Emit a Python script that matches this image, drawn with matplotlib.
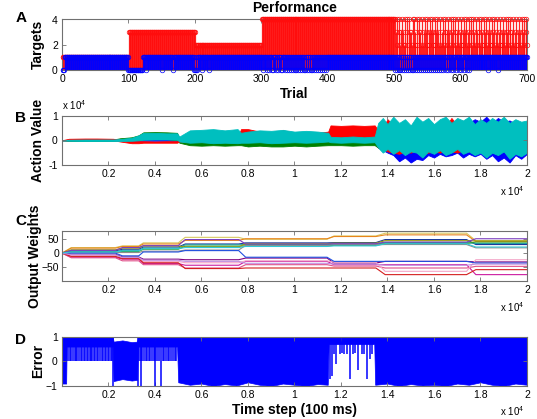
import numpy as np
import matplotlib
matplotlib.use("Agg")
import matplotlib.pyplot as plt

plt.rcParams['font.family'] = ['Liberation Sans', 'DejaVu Sans']
plt.rcParams['mathtext.fontset'] = 'custom'
plt.rcParams['mathtext.rm'] = 'Liberation Sans'
plt.rcParams['mathtext.it'] = 'Liberation Sans'

# ---------------- Panel A data ----------------
A_n_trials = 700
A_target_blocks = [(1, 100, 1), (101, 200, 3), (201, 300, 2), (301, 500, 4)]
A_target_late = ("4132413423" "1413242134" "1423132414" "2314213432" "1412341324"
                 "1324314231" "4231432142" "1341234123" "4132413421" "3421342134"
                 "2132413421" "3421342143" "2143214321" "4321423142" "3142314231"
                 "4213421342" "1324132413" "4213421342" "1324132413" "2413421342")
A_choice_zero_trials = ([1, 2, 3] + list(range(100, 122)) + [126, 151, 167, 199, 200, 201, 203, 210, 221]
                        + [303, 308, 312, 316, 318, 322, 325, 329, 331, 335, 338, 341, 344, 347, 350,
                           352, 355, 358, 361, 364, 366, 369, 372, 375, 377, 380, 383, 386, 389, 392, 395, 398]
                        + [501, 504, 507, 509, 512, 515, 518, 521, 524, 527, 529, 532, 535, 538, 541, 544,
                           547, 550, 552, 555, 558, 561, 565, 568, 571, 574, 578, 581, 585, 589, 593, 597,
                           601, 605, 609, 612, 641, 656])

# ---------------- Panel B data (x 1e4) ----------------
B_t = [0, 300, 1000, 1500, 2200, 2500, 3000, 3300, 3500, 4000, 4500, 4950, 5050, 5500, 6000, 6500,
       7000, 7550, 7700, 8000, 8500, 9000, 9500, 10000, 10500, 11000, 11450, 11550, 12000, 12500,
       13000, 13450, 13600, 13800, 14000, 14250, 14500, 14750, 15000, 15250, 15500, 15750, 16000,
       16250, 16500, 16750, 17000, 17250, 17500, 17750, 18000, 18250, 18500, 18750, 19000, 19250,
       19500, 19750, 20000]
B_blue_hi = [0, .01, .02, .02, .02, .02, .02, .02, .02, .02, .02, .02, .02, .05, .05, .05,
             .05, .05, .05, .05, .05, .05, .05, .05, .05, .05, .05, .05, .05, .05,
             .05, .05, .3, .5, .6, .5, .55, .6, .5, .65, .55, .6, .5,
             .55, .6, .5, .65, .6, .7, .85, .75, .95, .7, .9, .75, .8,
             .65, .7, .6]
B_blue_lo = [0, -.01, -.02, -.02, -.02, -.02, -.02, -.02, -.02, -.02, -.02, -.02, -.05, -.1, -.1, -.1,
             -.1, -.12, -.15, -.22, -.15, -.12, -.12, -.12, -.12, -.12, -.1, -.1, -.12, -.12,
             -.12, -.12, -.3, -.4, -.5, -.6, -.85, -.7, -.9, -.75, -.8, -.6, -.7,
             -.55, -.65, -.6, -.5, -.7, -.55, -.65, -.55, -.75, -.6, -.85, -.7, -.9,
             -.6, -.75, -.55]
B_green_hi = [0, .01, .01, .01, .03, .08, .12, .2, .32, .33, .32, .3, .05, .05, .05, .05,
              .05, .05, .05, .05, .05, .05, .05, .05, .05, .05, .05, .05, .05, .05,
              .05, .05, .2, .25, .2, .25, .2, .25, .2, .25, .2, .25, .2,
              .25, .2, .25, .2, .25, .2, .25, .2, .25, .2, .25, .2, .25,
              .2, .25, .2]
B_green_lo = [0, -.02, -.03, -.03, -.03, 0, 0, 0, .05, .05, .05, 0, -.1, -.2, -.22, -.2,
              -.22, -.2, -.2, -.25, -.22, -.25, -.25, -.22, -.25, -.22, -.2, -.2, -.2, -.22,
              -.2, -.2, -.3, -.3, -.35, -.3, -.35, -.3, -.35, -.3, -.35, -.3, -.35,
              -.3, -.35, -.3, -.35, -.3, -.35, -.3, -.35, -.3, -.35, -.3, -.35, -.3,
              -.35, -.3, -.35]
B_red_hi = [0, .06, .07, .07, .06, .02, -.04, -.04, -.04, -.05, -.04, -.04, 0, .1, .1, .1,
            .1, .1, .45, .45, .35, .3, .4, .3, .3, .3, .35, .6, .58, .6,
            .58, .6, .4, .5, .85, .6, .5, .55, .6, .5, .55, .7, .5,
            .6, .55, .9, .6, .55, .5, .55, .5, .45, .5, .45, .5, .4,
            .45, .5, .4]
B_red_lo = [0, 0, .01, .01, 0, -.05, -.12, -.12, -.1, -.1, -.1, -.1, -.05, -.05, -.05, -.05,
            -.05, -.05, .1, .15, .1, .1, .1, .1, .1, .1, .1, .05, .08, .05,
            .08, .05, -.3, -.35, -.45, -.5, -.55, -.45, -.5, -.4, -.55, -.5, -.45,
            -.5, -.4, -.45, -.5, -.4, -.45, -.5, -.4, -.45, -.35, -.4, -.45, -.35,
            -.4, -.35, -.4]
B_cyan_hi = [0, .02, .03, .03, .03, .05, .1, .2, .3, .3, .28, .28, .15, .4, .42, .45,
             .4, .45, .3, .35, .4, .38, .42, .35, .38, .35, .3, .14, .12, .15,
             .12, .15, .7, .9, .65, .95, .7, .85, .6, .95, .75, .9, .65,
             .85, .95, .7, .9, .8, .95, .65, .85, .7, .9, .75, .95, .7,
             .85, .75, .8]
B_cyan_lo = [0, -.02, -.03, -.03, -.03, -.03, -.02, 0, .02, .03, .03, .02, -.05, -.1, -.08, -.12,
             -.1, -.12, -.1, -.1, -.08, -.12, -.1, -.08, -.1, -.08, -.05, -.08, -.1, -.08,
             -.1, -.08, -.3, -.5, -.35, -.55, -.4, -.6, -.45, -.5, -.7, -.45, -.55,
             -.4, -.6, -.5, -.35, -.55, -.45, -.6, -.5, -.7, -.5, -.6, -.45, -.75,
             -.55, -.65, -.5]

# ---------------- Panel C data ----------------
C_t = [0, 400, 2300, 2600, 3300, 3500, 5000, 5300, 7600, 7900, 11400, 11700, 13500, 13900, 17400, 17800, 20000]
C_plateaus = {
    '#d8c860': [20, 26, 37, 57, 50, 62, 72, 45],
    '#e8851c': [18, 24, 33, 46, 52, 60, 66, 42],
    '#1a3a9a': [8, 14, 22, 33, 37, 38, 49, 31],
    '#1f9e9e': [5, 10, 18, 30, 31, 32, 38, 35],
    '#2e9e2e': [3, 6, 14, 25, 26, 28, 35, 40],
    '#9a9a10': [12, 18, 26, 22, 34, 36, 45, 44],
    '#8c8c8c': [2, 2, 7, 11, 28, 30, 31, 19],
    '#7b3fbf': [10, 20, 27, 49, 33, 34, 40, 52],
    '#800080': [-4, -14, -22, -24, -18, -36, -30, -32],
    '#cc1aa0': [-15, -22, -38, -44, -30, -42, -42, -78],
    '#e0508a': [-17, -28, -42, -54, -42, -47, -54, -48],
    '#f4a6c8': [-8, -18, -30, -35, -28, -33, -66, -24],
    '#d42020': [-12, -20, -35, -56, -54, -54, -78, -60],
    '#2050e0': [0, -10, 4, 9, -15, -30, -30, -36],
    '#c090e0': [-6, -16, -26, -30, -37, -40, -44, -40],
    '#30c8d8': [4, 8, 16, 20, 24, 26, 34, 22],
}

# ---------------- Panel D data ----------------
D_t = [0, 180, 200, 2180, 2220, 2600, 3000, 3230, 3270, 4950,
       5000, 5500, 6000, 6500, 7000, 7500, 8000, 8500, 9000, 9500,
       10000, 10500, 11000, 11430, 11470, 13430, 13470, 14000, 14500, 15000,
       15500, 16000, 16500, 17000, 17500, 18000, 18500, 19000, 19500, 20000]
D_lo = [-0.9, -0.9, 0.6, 0.6, -0.8, -0.72, -0.78, -0.75, 0.6, 0.6,
        -0.85, -0.95, -0.9, -1.0, -0.92, -0.98, -0.85, -0.95, -1.0, -0.9,
        -0.95, -1.0, -0.92, -0.95, 0.7, 0.7, -0.95, -0.9, -1.0, -0.92,
        -0.98, -0.95, -1.0, -0.9, -0.95, -0.85, -0.95, -1.0, -0.9, -0.95]
D_hi = [1, 1, 1, 1, 0.8, 0.85, 0.78, 0.8, 1, 1,
        1, 1, 1, 1, 1, 1, 1, 1, 1, 1,
        1, 1, 1, 1, 1, 1, 1, 1, 1, 1,
        1, 1, 1, 1, 1, 1, 1, 1, 1, 1]
D_spike_t = [260, 340, 400, 470, 540, 600, 660, 720, 800, 870, 930, 990, 1060, 1120, 1190, 1250,
             1310, 1380, 1440, 1510, 1570, 1640, 1700, 1770, 1840, 1900, 1960, 2030, 2100, 2150,
             2200, 3250,
             3320, 3380, 3400, 3450, 3520, 3600, 3660, 3740, 3800, 3870, 3950, 3980, 4020, 4100,
             4170, 4250, 4330, 4400, 4480, 4550, 4620, 4700, 4780, 4850, 4920,
             11520, 11600, 11700, 11800, 11950, 12050, 12150, 12250, 12380, 12500, 12600, 12750,
             12900, 13000, 13100, 13250, 13350]
D_spike_lo = [0.0] * 30 + [-1.0, -1.0] + \
             [0.0, 0.0, -1.0, 0.0, 0.0, 0.0, 0.0, 0.0, 0.0, 0.0, 0.0, -1.0, 0.0, 0.0,
              0.0, -1.0, 0.0, 0.0, 0.0, 0.0, 0.0, 0.0, 0.0, 0.0, 0.0] + \
             [-0.7, -0.6, 0.3, -0.1, 0.3, 0.35, 0.3, 0.3, -0.7, 0.3, 0.35, -0.35,
              0.3, 0.3, -0.7, 0.1, 0.3]

# ---------------- Figure ----------------
W, H = 537, 419
fig = plt.figure(figsize=(W / 100, H / 100), dpi=100)

def axes_px(left, top, right, bottom):
    return fig.add_axes([left / W, 1 - bottom / H, (right - left) / W, (bottom - top) / H])

axA = axes_px(62, 19.5, 527, 70)
axB = axes_px(62, 115.5, 527, 165)
axC = axes_px(62, 231, 527, 280.7)
axD = axes_px(62, 336.7, 527, 386)

frame_col = '#707070'
for ax in (axA, axB, axC, axD):
    for sp in ax.spines.values():
        sp.set_color(frame_col)
        sp.set_linewidth(0.8)
    ax.tick_params(direction='in', length=3, width=0.6, color=frame_col, labelsize=7.5,
                   top=True, right=True, pad=3, labelcolor='black')

# Panel A
trials = np.arange(1, A_n_trials + 1)
target = np.zeros(A_n_trials)
for s, e, v in A_target_blocks:
    target[s - 1:e] = v
target[500:700] = [int(c) for c in A_target_late]
choice = np.ones(A_n_trials)
choice[np.array(A_choice_zero_trials) - 1] = 0

red = (1, 0.05, 0.05)
axA.vlines(trials, 0, target, color=red, lw=0.9, alpha=0.9, zorder=2)
axA.plot(trials, target, 'o', ms=3.3, mfc='none', mec=red, mew=0.5, clip_on=False, zorder=3)
axA.vlines(trials, 0, choice, color='#0000ff', lw=0.9, alpha=0.9, zorder=4)
axA.plot(trials, choice, 'o', ms=3.3, mfc='none', mec='#0000ff', mew=0.5, clip_on=False, zorder=5)
axA.set_xlim(0, 700)
axA.set_ylim(0, 4)
axA.set_xticks(range(0, 701, 100))
axA.set_yticks([0, 2, 4])
axA.set_ylabel('Targets', fontsize=10, fontweight='bold')
axA.set_xlabel('Trial', fontsize=10, fontweight='bold')
axA.xaxis.set_label_coords(0.5, -0.33)

# Panel B
B_series = [('#0000ff', B_blue_lo, B_blue_hi), ('#008000', B_green_lo, B_green_hi),
            ('#ff0000', B_red_lo, B_red_hi), ('#00bfbf', B_cyan_lo, B_cyan_hi)]
for col, lo, hi in B_series:
    axB.fill_between(B_t, lo, hi, color=col, lw=0.6, edgecolor=col)
axB.set_xlim(1, 20000)
axB.set_ylim(-1, 1)
axB.set_yticks([-1, 0, 1])
axB.set_yticklabels(['-1', '0', '1'])
xt = list(range(2000, 20001, 2000))
xtl = ['0.2', '0.4', '0.6', '0.8', '1', '1.2', '1.4', '1.6', '1.8', '2']
axB.set_xticks(xt)
axB.set_xticklabels(xtl)
axB.set_ylabel('Action Value', fontsize=10, fontweight='bold')

# Panel C
for col, pl in C_plateaus.items():
    y = [0]
    for v in pl:
        y += [v, v]
    axC.plot(C_t, y, color=col, lw=0.8)
axC.set_xlim(1, 20000)
axC.set_ylim(-100, 80)
axC.set_yticks([-50, 0, 50])
axC.set_xticks(xt)
axC.set_xticklabels(xtl)
axC.tick_params(axis='y', pad=2)
axC.set_ylabel('Output Weights', fontsize=10, fontweight='bold')

# Panel D
axD.fill_between(D_t, D_lo, D_hi, color='#0000ff', lw=0.5, edgecolor='#0000ff')
axD.vlines(D_spike_t, D_spike_lo, 1.0, color='#0000ff', lw=1.1)
axD.set_xlim(1, 20000)
axD.set_ylim(-1, 1)
axD.set_yticks([-1, 0, 1])
axD.set_xticks(xt)
axD.set_xticklabels(xtl)
axD.set_ylabel('Error', fontsize=10, fontweight='bold')
axD.set_xlabel('Time step (100 ms)', fontsize=10, fontweight='bold')
axD.xaxis.set_label_coords(0.5, -0.34)

for ax in (axA, axB, axD):
    ax.yaxis.set_label_coords(-0.037, 0.5)
axC.yaxis.set_label_coords(-0.044, 0.5)

# Texts
fig.text(294.5 / W, 1 - 7.5 / H, 'Performance', ha='center', va='center', fontsize=10, fontweight='bold')
for lab, yp in [('A', 18), ('B', 118), ('C', 221), ('D', 340)]:
    fig.text(21 / W, 1 - yp / H, lab, ha='center', va='center', fontsize=11, fontweight='bold')
fig.text(62 / W, 1 - 110 / H, r'x 10$^{4}$', ha='left', va='baseline', fontsize=7)
for yb in (196, 312, 416):
    fig.text(524 / W, 1 - yb / H, r'x 10$^{4}$', ha='right', va='baseline', fontsize=7)

fig.savefig('out.png', dpi=100)
